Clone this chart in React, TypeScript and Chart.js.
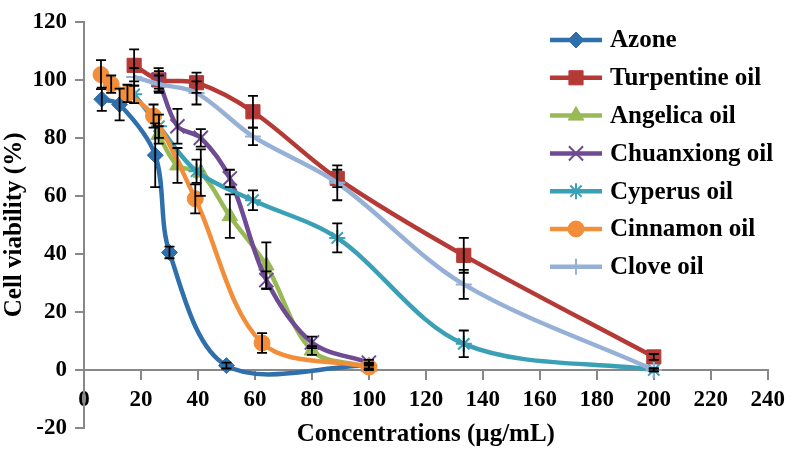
import React, { useEffect, useRef } from 'react';
import { Chart, registerables } from 'chart.js';
import { drawPoint } from 'chart.js/helpers';

Chart.register(...registerables);

const FONT = "'Liberation Serif', 'Times New Roman', serif";

// ---- data ----
const seriesNames = ['Azone', 'Turpentine oil', 'Angelica oil', 'Chuanxiong oil', 'Cyperus oil', 'Cinnamon oil', 'Clove oil'];

const xAzone = [6.25, 12.5, 25, 30, 50, 100];
const yAzone = [93.3, 91.5, 74, 40.5, 1.5, 1.5];
const eAzone = [4, 5.5, 11, 2, 1, 1];

const xTurpentine = [17.6, 26.3, 39.5, 59.3, 88.9, 133.3, 200];
const yTurpentine = [105, 100, 99, 89, 66, 39.5, 4.5];
const eTurpentine = [5.5, 3, 3.5, 5.5, 3, 6, 1];

const xAngelica = [26.2, 32.8, 41, 51.2, 64, 80, 100];
const yAngelica = [81, 70.5, 68, 53, 36, 6.7, 1];
const eAngelica = [3, 6, 8, 7.5, 8, 1.5, 1];

const xChuanxiong = [26.2, 32.8, 41, 51.2, 64, 80, 100];
const yChuanxiong = [100, 84, 80, 66, 31, 9.5, 2.5];
const eChuanxiong = [4, 6, 3, 3, 3, 2, 1];

const xCyperus = [17.6, 26.3, 39.5, 59.3, 88.9, 133.3, 200];
const yCyperus = [95, 84, 68.5, 58.5, 45.5, 9, 0];
const eCyperus = [3, 4, 4, 3.4, 5, 4.6, 0.5];

const xCinnamon = [5.96, 9.54, 15.26, 24.41, 39.06, 62.5, 100];
const yCinnamon = [101.8, 98.5, 95.3, 87.5, 59, 9.3, 1];
const eCinnamon = [5, 3, 3, 4, 5, 3.4, 1];

const xClove = [17.6, 26.3, 39.5, 59.3, 88.9, 133.3, 200];
const yClove = [101, 98.5, 95.5, 80.5, 64.5, 29.5, 0];
const eClove = [3, 3, 4, 3, 6, 5, 0.5];

const xTicks = { min: 0, max: 240, step: 20 };
const yTicks = { min: -20, max: 120, step: 20 };

// ---- styles ----
const colors = ['#2f6fab', '#b53a36', '#98b954', '#6f4b93', '#3aa0b5', '#f28e3a', '#97b1d6'];
const styles = ['rectRot', 'rect', 'triangle', 'crossRot', 'star', 'circle', 'cross'];
const radii = [8, 10, 9, 10, 8, 8, 8];

const xs = [xAzone, xTurpentine, xAngelica, xChuanxiong, xCyperus, xCinnamon, xClove];
const ys = [yAzone, yTurpentine, yAngelica, yChuanxiong, yCyperus, yCinnamon, yClove];
const es = [eAzone, eTurpentine, eAngelica, eChuanxiong, eCyperus, eCinnamon, eClove];

const errorBarPlugin = {
  id: 'errorBars',
  afterDatasetsDraw(chart: any) {
    const { ctx, chartArea } = chart;
    const xs_ = chart.scales.x;
    const ys_ = chart.scales.y;
    ctx.save();
    ctx.beginPath();
    ctx.rect(chartArea.left, chartArea.top, chartArea.right - chartArea.left, chartArea.bottom - chartArea.top);
    ctx.clip();
    ctx.strokeStyle = '#000';
    ctx.lineWidth = 1.8;
    chart.data.datasets.forEach((ds: any, di: number) => {
      const errs = es[di];
      ds.data.forEach((p: any, i: number) => {
        const e = errs[i];
        if (!e) return;
        const px = xs_.getPixelForValue(p.x);
        const yt = ys_.getPixelForValue(p.y + e);
        const yb = ys_.getPixelForValue(p.y - e);
        ctx.beginPath();
        ctx.moveTo(px, yt);
        ctx.lineTo(px, yb);
        ctx.moveTo(px - 5, yt);
        ctx.lineTo(px + 5, yt);
        ctx.moveTo(px - 5, yb);
        ctx.lineTo(px + 5, yb);
        ctx.stroke();
      });
    });
    ctx.restore();
  },
};

const legendPlugin = {
  id: 'lineLegend',
  afterDraw(chart: any) {
    const { ctx } = chart;
    ctx.save();
    const x0 = 550;
    const x1 = 602;
    const xm = 576;
    chart.data.datasets.forEach((ds: any, i: number) => {
      const y = 40 + i * 37.8;
      ctx.strokeStyle = ds.borderColor;
      ctx.lineWidth = 4.5;
      ctx.beginPath();
      ctx.moveTo(x0, y);
      ctx.lineTo(x1, y);
      ctx.stroke();
      ctx.fillStyle = ds.pointBackgroundColor;
      ctx.strokeStyle = ds.pointBorderColor;
      ctx.lineWidth = ds.pointBorderWidth;
      drawPoint(ctx, { pointStyle: ds.pointStyle, radius: ds.pointRadius, rotation: 0, borderWidth: ds.pointBorderWidth } as any, xm, y);
      ctx.fillStyle = '#000';
      ctx.font = `bold 25px ${FONT}`;
      ctx.textBaseline = 'middle';
      ctx.textAlign = 'left';
      ctx.fillText(ds.label, 610, y + 1);
    });
    ctx.restore();
  },
};

export default function App() {
  const ref = useRef<HTMLCanvasElement>(null);

  useEffect(() => {
    if (!ref.current) return;
    const datasets = seriesNames.map((name, i) => ({
      label: name,
      data: xs[i].map((x, j) => ({ x, y: ys[i][j] })),
      borderColor: colors[i],
      backgroundColor: colors[i],
      pointBackgroundColor: colors[i],
      pointBorderColor: colors[i],
      pointBorderWidth: styles[i].startsWith('cross') || styles[i] === 'star' ? 2 : 1,
      pointStyle: styles[i],
      pointRadius: radii[i],
      borderWidth: 4.5,
      tension: 0.33,
      fill: false,
      xAxisID: 'x',
      yAxisID: 'y',
      order: seriesNames.length - i,
    }));

    const tickFont = { family: FONT, size: 23, weight: 'bold' as const };
    const titleFont = { family: FONT, size: 25, weight: 'bold' as const };

    const chart = new Chart(ref.current, {
      type: 'line',
      data: { datasets },
      options: {
        animation: false,
        responsive: false,
        devicePixelRatio: 1,
        layout: { padding: { top: 13.5, right: 23, bottom: 0, left: 0 } },
        plugins: { legend: { display: false }, tooltip: { enabled: false } },
        scales: {
          x: {
            type: 'linear',
            position: { y: 0 } as any,
            min: xTicks.min,
            max: xTicks.max,
            ticks: { stepSize: xTicks.step, autoSkip: false, maxRotation: 0, color: '#000', font: tickFont, padding: 7 },
            grid: { drawOnChartArea: false, color: '#888', lineWidth: 2, tickLength: 9 },
            border: { color: '#888', width: 2 },
            afterFit: (s: any) => { s.height = 0; },
          },
          xt: {
            type: 'linear',
            position: 'bottom',
            min: xTicks.min,
            max: xTicks.max,
            ticks: { display: false },
            grid: { display: false },
            border: { display: false },
            title: { display: true, text: 'Concentrations (µg/mL)', color: '#000', font: titleFont, padding: { top: 0, bottom: 8 } },
            afterFit: (s: any) => { s.height = 30; },
          },
          y: {
            type: 'linear',
            position: 'left',
            min: yTicks.min,
            max: yTicks.max,
            ticks: { stepSize: yTicks.step, color: '#000', font: tickFont, padding: 8 },
            grid: { drawOnChartArea: false, color: '#888', lineWidth: 2, tickLength: 9 },
            border: { color: '#888', width: 2 },
            title: { display: true, text: 'Cell viability (%)', color: '#000', font: titleFont, padding: { top: 0, bottom: 0 } },
            afterFit: (s: any) => { s.width = 84; },
          },
        } as any,
      },
      plugins: [errorBarPlugin, legendPlugin],
    });
    return () => chart.destroy();
  }, []);

  return (
    <div style={{ position: 'absolute', left: 0, top: 0, width: 792, height: 458, background: '#fff' }}>
      <canvas ref={ref} width={792} height={458} style={{ display: 'block' }} />
    </div>
  );
}
